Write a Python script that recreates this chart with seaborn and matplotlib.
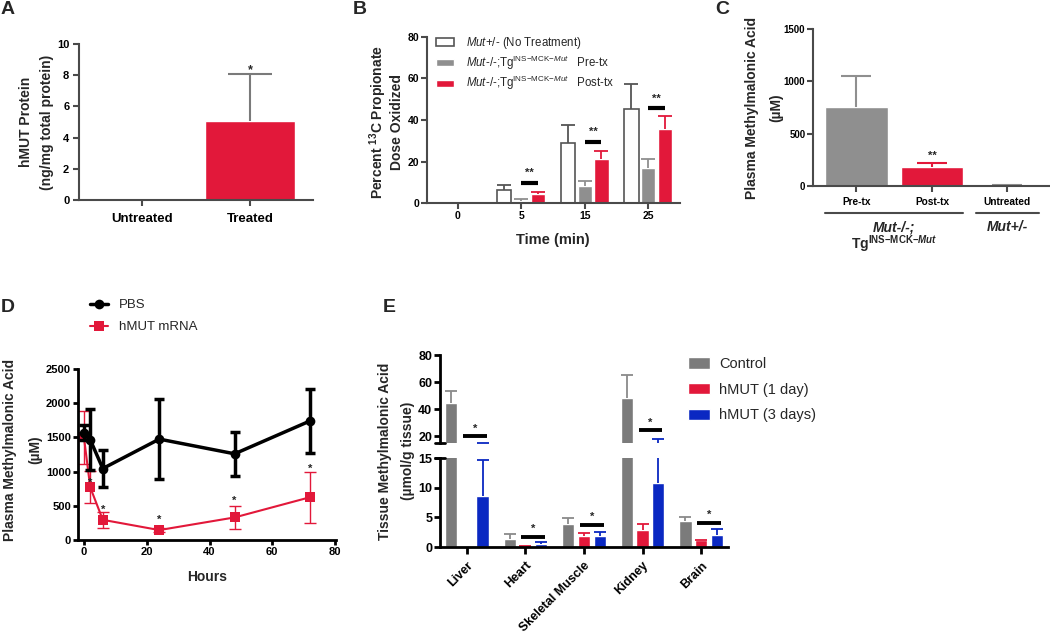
import matplotlib
matplotlib.use("Agg")
import matplotlib.pyplot as plt
import matplotlib.transforms as mtrans
from matplotlib.patches import Patch
from matplotlib.lines import Line2D
import numpy as np
import pandas as pd
import seaborn as sns

# ---------------- data ----------------
# Panel A
a_groups = ["Untreated", "Treated"]
a_mean = [0.0, 5.05]
a_err = [0.0, 3.05]
a_star = [None, 8.65]

# Panel B
b_times = ["0", "5", "15", "25"]
b_groups = ["het", "pre", "post"]
b_het = [0.0, 6.3, 28.9, 45.1]
b_het_err = [0.0, 2.2, 8.5, 12.1]
b_pre = [0.0, 1.0, 8.0, 16.9]
b_pre_err = [0.0, 0.8, 2.6, 4.3]
b_post = [0.0, 4.1, 21.2, 35.5]
b_post_err = [0.0, 1.2, 4.1, 6.2]
b_sig_line = [None, 9.6, 29.4, 45.6]
b_sig_star = [None, 16.3, 36.3, 52.3]
b_labels = [r"$\mathit{Mut}$+/- (No Treatment)",
            r"$\mathit{Mut}$-/-;Tg$^{\mathrm{INS{-}MCK{-}}\mathit{Mut}}$   Pre-tx",
            r"$\mathit{Mut}$-/-;Tg$^{\mathrm{INS{-}MCK{-}}\mathit{Mut}}$   Post-tx"]

# Panel C
c_groups = ["Pre-tx", "Post-tx", "Untreated"]
c_mean = [755, 185, 8]
c_err = [298, 32, 4]
c_star = [None, 329, None]

# Panel D
d_hours = [0, 2, 6, 24, 48, 72]
d_pbs = [1570, 1465, 1045, 1475, 1260, 1740]
d_pbs_err = [110, 445, 275, 580, 320, 470]
d_hmut = [1500, 770, 295, 145, 330, 625]
d_hmut_err = [385, 235, 120, 30, 170, 370]
d_star = [None, 890, 500, 350, 625, 1090]

# Panel E
e_tissues = ["Liver", "Heart", "Skeletal Muscle", "Kidney", "Brain"]
e_conds = ["Control", "hMUT (1 day)", "hMUT (3 days)"]
e_control = [44.2, 1.4, 3.85, 48.5, 4.3]
e_control_err = [9.1, 0.8, 1.05, 16.4, 0.7]
e_day1 = [0.1, 0.15, 1.9, 2.85, 1.15]
e_day1_err = [0.0, 0.05, 0.5, 1.1, 0.1]
e_day3 = [8.65, 0.45, 1.85, 10.8, 2.1]
e_day3_err = [6.0, 0.35, 0.6, 7.2, 1.0]
e_sig_line = [20.5, 1.7, 3.75, 24.9, 4.0]
e_sig_star = [28.5, 3.66, 5.7, 33.0, 6.0]

# ---------------- style ----------------
sns.set_theme(style="ticks")
plt.rcParams["font.family"] = ["Liberation Sans", "DejaVu Sans"]
plt.rcParams["font.weight"] = "bold"
plt.rcParams["mathtext.fontset"] = "custom"
plt.rcParams["mathtext.rm"] = "Liberation Sans:weight=normal"
plt.rcParams["mathtext.it"] = "Liberation Sans:style=italic:weight=normal"
plt.rcParams["mathtext.bf"] = "Liberation Sans:weight=bold"
if "mathtext.bfit" in plt.rcParams:
    plt.rcParams["mathtext.bfit"] = "Liberation Sans:style=italic:weight=bold"

RED = "#E2183A"
GRAY = "#8F8F8F"
EGRAY = "#7B7B7B"
BLUE = "#0A28C2"
AX = "#4a4a4a"

W, H = 1050, 642
fig = plt.figure(figsize=(W / 100, H / 100), dpi=100)
fig.patch.set_facecolor("white")


def add_ax(x0, y0, x1, y1):
    ax = fig.add_axes([x0 / W, 1 - y1 / H, (x1 - x0) / W, (y1 - y0) / H])
    ax.set_facecolor("none")
    return ax


def ftext(x, y, s, **kw):
    return fig.text(x / W, 1 - y / H, s, **kw)


def style(ax, color, lw, fs, tl=4, pad=2):
    for s in ["top", "right"]:
        ax.spines[s].set_visible(False)
    for s in ["left", "bottom"]:
        ax.spines[s].set_color(color)
        ax.spines[s].set_linewidth(lw)
    ax.tick_params(axis="both", direction="out", length=tl, width=lw, color=color,
                   labelsize=fs, pad=pad, labelcolor="black")
    ax.set_xlabel("")
    ax.set_ylabel("")


def bars_by_cat(ax, nh):
    ps = sorted(ax.patches, key=lambda p: p.get_x())
    return [ps[i:i + nh] for i in range(0, len(ps), nh)]


def cx(p):
    return p.get_x() + p.get_width() / 2


def star(ax, x, y, s, fs):
    ax.annotate(s, (x, y), xytext=(0, -0.62 * fs), textcoords="offset points",
                ha="center", va="baseline", fontsize=fs, fontweight="bold",
                annotation_clip=False)


def up_err(ax, x, m, e, color, lw, cap):
    """Upper-only error bar (no cap at the bar top)."""
    cont = ax.errorbar(x, m, yerr=[[0], [e]], fmt="none", ecolor=color,
                       elinewidth=lw, capsize=cap, capthick=lw)
    for cl in cont[1]:
        if np.allclose(cl.get_ydata(), m):
            cl.set_visible(False)


# ---------------- Panel A ----------------
axA = add_ax(79, 44, 313, 200)
sns.barplot(x=a_groups, y=a_mean, hue=a_groups, palette=[RED, RED], width=0.83,
            saturation=1, errorbar=None, legend=False, ax=axA)
for grp, m, e, s in zip(bars_by_cat(axA, 1), a_mean, a_err, a_star):
    xc = cx(grp[0])
    if e > 0:
        up_err(axA, xc, m, e, "#7a7a7a", 1.5, 16)
    if s is not None:
        star(axA, xc, s, "*", 9)
axA.set_xlim(-0.58, 1.58)
axA.set_ylim(0, 10)
axA.set_yticks(range(0, 11, 2))
style(axA, AX, 1.5, 8, tl=4, pad=3)
axA.tick_params(axis="x", labelsize=9.5, pad=5)
ftext(26, 122, "hMUT Protein", rotation=90, ha="center", va="center", fontsize=10)
ftext(47, 122, "(ng/mg total protein)", rotation=90, ha="center", va="center", fontsize=10)

# ---------------- Panel B ----------------
axB = add_ax(427, 37, 680, 203)
dfB = pd.DataFrame({"time": b_times * 3,
                    "group": [g for g in b_groups for _ in b_times],
                    "value": b_het + b_pre + b_post})
sns.barplot(data=dfB, x="time", y="value", hue="group", order=b_times, hue_order=b_groups,
            palette=["white", GRAY, RED], width=0.79, gap=0.15, saturation=1,
            errorbar=None, legend=False, ax=axB)
b_vals = [b_het, b_pre, b_post]
b_errs = [b_het_err, b_pre_err, b_post_err]
b_ecol = ["#555555", GRAY, RED]
for ci, grp in enumerate(bars_by_cat(axB, 3)):
    for hi, p in enumerate(grp):
        if hi == 0:
            p.set_edgecolor("#555555")
            p.set_linewidth(1.2)
        e = b_errs[hi][ci]
        if e > 0:
            up_err(axB, cx(p), b_vals[hi][ci], e, b_ecol[hi], 1.3, 5)
    if b_sig_line[ci] is not None:
        x1, x2 = cx(grp[1]), cx(grp[2])
        axB.plot([x1, x2], [b_sig_line[ci]] * 2, color="black", lw=3, solid_capstyle="butt")
        star(axB, (x1 + x2) / 2, b_sig_star[ci], "**", 8)
axB.set_xlim(-0.48, 3.5)
axB.set_ylim(0, 80)
axB.set_yticks(range(0, 81, 20))
style(axB, AX, 1.5, 7.5, tl=4, pad=1.5)
axB.tick_params(axis="x", pad=2)
axB.legend([Patch(facecolor="white", edgecolor="#555555", lw=1.2), Patch(facecolor=GRAY),
            Patch(facecolor=RED)], b_labels, loc="upper left",
           bbox_to_anchor=(436 / W, 1 - 35 / H), bbox_transform=fig.transFigure,
           frameon=False, prop={"weight": "normal", "size": 8.3}, handlelength=1.6,
           handleheight=0.6, handletextpad=1.0, labelspacing=0.22, borderpad=0,
           borderaxespad=0)
ftext(378, 122, r"Percent $^{\mathbf{13}}$C Propionate", rotation=90, ha="center",
      va="center", fontsize=10)
ftext(397, 122, "Dose Oxidized", rotation=90, ha="center", va="center", fontsize=10)
ftext(553, 240, "Time (min)", ha="center", va="center", fontsize=10.5)

# ---------------- Panel C ----------------
axC = add_ax(813, 29, 1049, 186)
sns.barplot(x=c_groups, y=c_mean, hue=c_groups, palette=[GRAY, RED, GRAY], width=0.83,
            saturation=1, errorbar=None, legend=False, ax=axC)
c_ecol = [GRAY, RED, GRAY]
cats = bars_by_cat(axC, 1)
for i, grp in enumerate(cats):
    p = grp[0]
    up_err(axC, cx(p), c_mean[i], c_err[i], c_ecol[i], 1.5, 11)
    if c_star[i] is not None:
        star(axC, cx(p), c_star[i], "**", 8)
axC.set_xlim(-0.575, 2.55)
axC.set_ylim(0, 1500)
axC.set_yticks([0, 500, 1000, 1500])
style(axC, AX, 1.5, 7, tl=4, pad=1.5)
axC.tick_params(axis="x", labelsize=7.3, pad=4)
bt = mtrans.blended_transform_factory(axC.transData, fig.transFigure)
l0 = cats[0][0].get_x()
r1 = cats[1][0].get_x() + cats[1][0].get_width()
l2 = cats[2][0].get_x()
r2 = cats[2][0].get_x() + cats[2][0].get_width()
axC.plot([l0, r1], [1 - 213 / H] * 2, transform=bt, color=AX, lw=1.5, clip_on=False)
axC.plot([l2, r2], [1 - 213 / H] * 2, transform=bt, color=AX, lw=1.5, clip_on=False)
axC.text((l0 + r1) / 2, 1 - 227 / H, "Mut-/-;", transform=bt, ha="center", va="center",
         fontsize=10, fontstyle="italic")
axC.text((l0 + r1) / 2, 1 - 244 / H, r"Tg$^{\mathbf{INS{-}MCK{-}}\mathbfit{Mut}}$",
         transform=bt, ha="center", va="center", fontsize=10)
axC.text((l2 + r2) / 2, 1 - 227 / H, "Mut+/-", transform=bt, ha="center", va="center",
         fontsize=10, fontstyle="italic")
ftext(752, 108, "Plasma Methylmalonic Acid", rotation=90, ha="center", va="center", fontsize=10)
ftext(776, 108, "(µM)", rotation=90, ha="center", va="center", fontsize=10)

# ---------------- Panel D ----------------
axD = add_ax(78, 369, 336, 540)
sns.lineplot(x=d_hours, y=d_hmut, ax=axD, color=RED, lw=1.5, marker="s", markersize=6.5,
             markeredgewidth=0, errorbar=None)
axD.errorbar(d_hours, d_hmut, yerr=d_hmut_err, fmt="none", ecolor=RED, elinewidth=1.0,
             capsize=4, capthick=1.0)
sns.lineplot(x=d_hours, y=d_pbs, ax=axD, color="black", lw=2.5, marker="o", markersize=7,
             markeredgewidth=0, errorbar=None)
axD.errorbar(d_hours, d_pbs, yerr=d_pbs_err, fmt="none", ecolor="black", elinewidth=2.5,
             capsize=3.5, capthick=2.5)
for x, s in zip(d_hours, d_star):
    if s is not None:
        star(axD, x, s, "*", 8)
axD.set_xlim(-1.9, 80.3)
axD.set_ylim(0, 2500)
axD.set_xticks([0, 20, 40, 60, 80])
axD.set_yticks([0, 500, 1000, 1500, 2000, 2500])
style(axD, "black", 2, 8, tl=3.5, pad=1.5)
fig.legend(handles=[Line2D([], [], color="black", lw=2.5, marker="o", ms=7, mew=0),
                    Line2D([], [], color=RED, lw=1.5, marker="s", ms=6.5, mew=0)],
           labels=["PBS", "hMUT mRNA"], loc="upper left",
           bbox_to_anchor=(90 / W, 1 - 299 / H), frameon=False,
           prop={"weight": "normal", "size": 9.5}, handlelength=1.4, handletextpad=0.8,
           labelspacing=0.75, borderpad=0, borderaxespad=0)
ftext(10, 450, "Plasma Methylmalonic Acid", rotation=90, ha="center", va="center", fontsize=10)
ftext(35, 450, "(µM)", rotation=90, ha="center", va="center", fontsize=10)
ftext(207, 577, "Hours", ha="center", va="center", fontsize=10)

# ---------------- Panel E ----------------
dfE = pd.DataFrame({"tissue": e_tissues * 3,
                    "cond": [c for c in e_conds for _ in e_tissues],
                    "value": e_control + e_day1 + e_day3})
axEu = add_ax(440, 355, 728, 443)
axEl = add_ax(440, 458, 728, 547)
e_vals = [e_control, e_day1, e_day3]
e_errs = [e_control_err, e_day1_err, e_day3_err]
e_ecol = ["#8a8a8a", RED, BLUE]
for ax in (axEu, axEl):
    sns.barplot(data=dfE, x="tissue", y="value", hue="cond", order=e_tissues,
                hue_order=e_conds, palette=[EGRAY, RED, BLUE], width=0.8, gap=0.22,
                saturation=1, errorbar=None, legend=False, ax=ax)
    groups = bars_by_cat(ax, 3)
    for ci, grp in enumerate(groups):
        for hi, p in enumerate(grp):
            e = e_errs[hi][ci]
            if e > 0:
                up_err(ax, cx(p), e_vals[hi][ci], e, e_ecol[hi], 1.3, 4.5)
    ax.set_xlim(-0.46, 4.46)
for ci, grp in enumerate(bars_by_cat(axEl, 3)):
    w = grp[1].get_width()
    x1 = grp[1].get_x() + 0.17 * w
    x2 = grp[2].get_x() + 0.83 * w
    tgt = axEu if e_sig_line[ci] > 15 else axEl
    tgt.plot([x1, x2], [e_sig_line[ci]] * 2, color="black", lw=2.8, solid_capstyle="butt",
             clip_on=False)
    star(tgt, (x1 + x2) / 2, e_sig_star[ci], "*", 8)
axEu.set_ylim(15, 80)
axEu.set_yticks([20, 40, 60, 80])
axEl.set_ylim(0, 15)
axEl.set_yticks([0, 5, 10, 15])
style(axEu, "black", 2, 9, tl=4, pad=1.5)
style(axEl, "black", 2, 9, tl=4, pad=1.5)
axEu.spines["bottom"].set_visible(False)
axEu.tick_params(axis="x", bottom=False, labelbottom=False)
axEl.set_xticks(range(len(e_tissues)), e_tissues, rotation=45, ha="right",
                rotation_mode="anchor")
axEl.tick_params(axis="x", labelsize=9, length=5, pad=4)
d = 5 / 288
axEu.plot([-d, d], [0, 0], transform=axEu.transAxes, color="black", lw=2, clip_on=False)
axEl.plot([-d, d], [1, 1], transform=axEl.transAxes, color="black", lw=2, clip_on=False)
fig.legend(handles=[Patch(facecolor=c) for c in [EGRAY, RED, BLUE]], labels=e_conds,
           loc="upper left", bbox_to_anchor=(688 / W, 1 - 357 / H), frameon=False,
           prop={"weight": "normal", "size": 10.5}, handlelength=1.5, handleheight=0.8,
           handletextpad=0.65, labelspacing=0.8, borderpad=0, borderaxespad=0)
ftext(385, 451, "Tissue Methylmalonic Acid", rotation=90, ha="center", va="center", fontsize=10)
ftext(408, 451, "(µmol/g tissue)", rotation=90, ha="center", va="center", fontsize=10)

# ---------------- panel letters ----------------
for x, y, s in [(1, 1, "A"), (353, 1, "B"), (715, 1, "C"), (1, 299, "D"), (383, 299, "E")]:
    ftext(x, y, s, ha="left", va="top", fontsize=14, fontweight="bold")

fig.savefig("out.png", dpi=100, facecolor="white")
